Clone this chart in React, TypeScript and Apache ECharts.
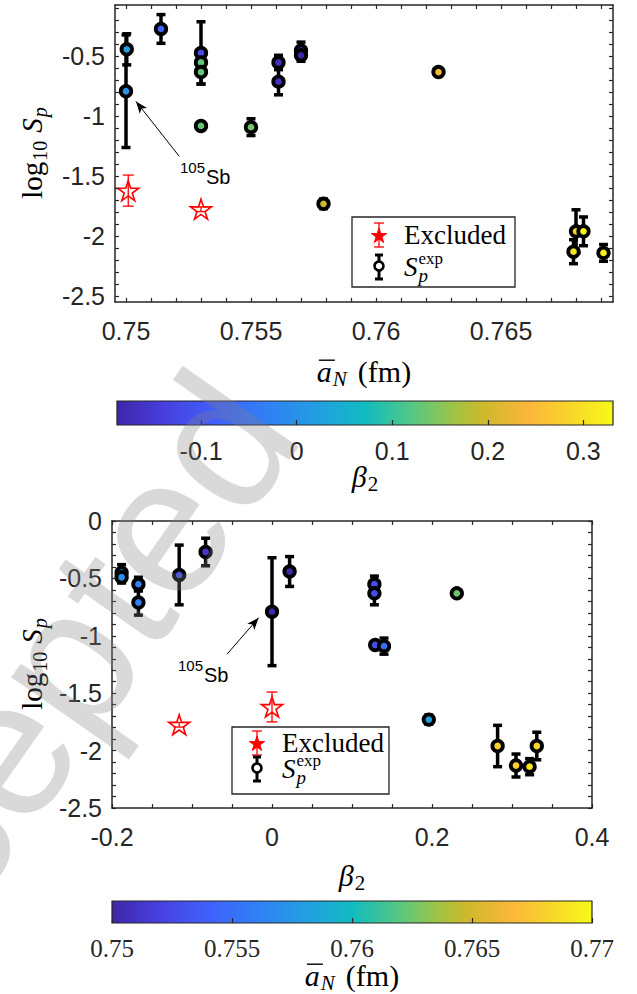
import React, { useEffect, useRef } from "react";
import * as echarts from "echarts";

// ---------------- data ----------------
// accepted nuclei: mean diffuseness aN (fm), deformation beta2, log10 Sp and its error
const aN = [0.75003, 0.7500, 0.7514, 0.7530, 0.7530, 0.7530, 0.7530, 0.7550, 0.7561, 0.7561, 0.7570, 0.7570, 0.7579, 0.7625, 0.7680, 0.7683, 0.7679, 0.7691];
const beta2 = [0.022, 0.000, -0.083, -0.116, 0.128, 0.128, 0.129, 0.140, -0.167, -0.167, -0.188, -0.188, 0.196, 0.231, 0.282, 0.331, 0.305, 0.322];
const logSp = [-0.44, -0.79, -0.27, -0.47, -0.55, -0.63, -1.08, -1.09, -0.55, -0.71, -0.45, -0.49, -1.73, -0.63, -1.96, -1.96, -2.13, -2.14];
const logSpErr = [0.13, 0.47, 0.12, 0.26, 0.07, 0.10, 0.03, 0.07, 0.06, 0.11, 0.07, 0.05, 0.04, 0.03, 0.18, 0.12, 0.10, 0.07];

// excluded nuclei
const exclAN = [0.75009, 0.7530];
const exclBeta2 = [0.0, -0.116];
const exclLogSp = [-1.62, -1.775];
const exclErr = [0.13, 0.02];

// tick labels
const topXLabels = [0.75, 0.755, 0.76, 0.765];
const topYLabels = [-2.5, -2, -1.5, -1, -0.5];
const botXLabels = [-0.2, 0, 0.2, 0.4];
const botYLabels = [-2.5, -2, -1.5, -1, -0.5, 0];
const cbBetaLabels = [-0.1, 0, 0.1, 0.2, 0.3];
const cbANLabels = [0.75, 0.755, 0.76, 0.765, 0.77];

// axis ranges
const TOP_X_RANGE = [0.74956, 0.76948];
const TOP_Y_RANGE = [-2.55, -0.07];
const BOT_X_RANGE = [-0.2, 0.4];
const BOT_Y_RANGE = [-2.5, 0];
const AN_COLOR_RANGE = [0.75, 0.77];

// annotation arrows (data space): [from, to]
const topArrow = [[0.75213, -1.334], [0.7504, -0.875]];
const botArrow = [[-0.0562, -1.16], [-0.0167, -0.843]];

// ---------------- styles ----------------
const AX = "#262626";
const RED = "#ff0000";
const SERIF = '"Liberation Serif", "Times New Roman", serif';
const SANS = '"Liberation Sans", Arial, sans-serif';

const PARULA: [number, string][] = [
  [0, "#3e26a8"], [0.1, "#4741e0"], [0.2, "#4060fb"], [0.3, "#317ff5"],
  [0.41, "#22a0e0"], [0.5, "#10bcc0"], [0.6, "#58c880"], [0.68, "#a0c444"],
  [0.74, "#cdb92c"], [0.83, "#fbb63c"], [0.91, "#f8d42a"], [1, "#f6fa16"],
];

function hexToRgb(h: string) {
  const n = parseInt(h.slice(1), 16);
  return [(n >> 16) & 255, (n >> 8) & 255, n & 255];
}
function cmap(t: number) {
  for (let i = 0; i < PARULA.length - 1; i++) {
    const [t0, c0] = PARULA[i];
    const [t1, c1] = PARULA[i + 1];
    if (t <= t1) {
      const f = (t - t0) / (t1 - t0);
      const a = hexToRgb(c0), b = hexToRgb(c1);
      const r = a.map((v, k) => Math.round(v + (b[k] - v) * f));
      return `rgb(${r[0]},${r[1]},${r[2]})`;
    }
  }
  return PARULA[PARULA.length - 1][1];
}
const PALETTE = Array.from({ length: 64 }, (_, i) => cmap(i / 63));
const GRADIENT = {
  type: "linear", x: 0, y: 0, x2: 1, y2: 0,
  colorStops: PARULA.map(([o, c]) => ({ offset: o, color: c })),
};

function steps(a: number, b: number, s: number) {
  const out: number[] = [];
  const n = Math.round((b - a) / s);
  for (let i = 0; i <= n; i++) out.push(+(a + i * s).toFixed(6));
  return out;
}

const STAR = "path://M0,-1 L0.2245,-0.309 L0.951,-0.309 L0.363,0.118 L0.588,0.809 L0,0.382 L-0.588,0.809 L-0.363,0.118 L-0.951,-0.309 L-0.2245,-0.309 Z";

function starPts(cx: number, cy: number, R: number) {
  const pts: number[][] = [];
  for (let i = 0; i < 10; i++) {
    const r = i % 2 === 0 ? R : R * 0.382;
    const a = -Math.PI / 2 + (i * Math.PI) / 5;
    pts.push([cx + r * Math.cos(a), cy + r * Math.sin(a)]);
  }
  return pts;
}

// ---------------- math-like text helper ----------------
type Run = { t: string; size: number; italic?: boolean; dy?: number; gap?: number; family?: string; stack?: boolean; over?: boolean };
let mctx: CanvasRenderingContext2D | null = null;
function fontOf(r: Run) {
  return `${r.italic ? "italic " : ""}${r.size}px ${r.family || SERIF}`;
}
function widthOf(r: Run) {
  if (!mctx) mctx = document.createElement("canvas").getContext("2d");
  if (!mctx) return r.t.length * r.size * 0.5;
  mctx.font = fontOf(r);
  return mctx.measureText(r.t).width;
}
function mathText(cx: number, cy: number, runs: Run[], align: "center" | "left" = "center", rotation = 0, color = "#000") {
  let x = 0;
  let lastStart = 0;
  const items: { r: Run; x: number; w: number }[] = [];
  for (const r of runs) {
    x += r.gap || 0;
    const start = r.stack ? lastStart : x;
    const w = widthOf(r);
    items.push({ r, x: start, w });
    if (!r.stack) lastStart = start;
    x = Math.max(x, start + w);
  }
  const off = align === "center" ? -x / 2 : 0;
  const children: any[] = [];
  for (const it of items) {
    children.push({
      type: "text",
      z: 40,
      x: off + it.x,
      y: it.r.dy || 0,
      style: {
        text: it.r.t, font: fontOf(it.r), fill: color,
        align: "left", verticalAlign: "middle", textAlign: "left", textVerticalAlign: "middle",
      },
    });
    if (it.r.over) {
      const yy = (it.r.dy || 0) - 0.36 * it.r.size;
      children.push({
        type: "line",
        z: 40,
        shape: { x1: off + it.x + 2, y1: yy, x2: off + it.x + it.w + 3, y2: yy },
        style: { stroke: color, lineWidth: 1.4 },
      });
    }
  }
  return { type: "group", x: cx, y: cy, rotation, silent: true, z: 40, children };
}

function ln(x1: number, y1: number, x2: number, y2: number, color: string, lw: number) {
  return { type: "line", shape: { x1, y1, x2, y2 }, style: { stroke: color, lineWidth: lw }, z: 21, silent: true };
}

function legend(bx: number, by: number, bw: number, bh: number, ix: number, tx: number, y1: number, y2: number) {
  const els: any[] = [];
  els.push({ type: "rect", shape: { x: bx, y: by, width: bw, height: bh }, style: { fill: "#fff", stroke: AX, lineWidth: 1.3 }, z: 20, silent: true });
  els.push(ln(ix, y1 - 12, ix, y1 + 12, RED, 1.3));
  els.push(ln(ix - 5, y1 - 12, ix + 5, y1 - 12, RED, 1.3));
  els.push(ln(ix - 5, y1 + 12, ix + 5, y1 + 12, RED, 1.3));
  els.push({ type: "polygon", shape: { points: starPts(ix, y1 + 1, 8) }, style: { fill: RED, stroke: RED, lineWidth: 1 }, z: 22, silent: true });
  els.push(ln(ix, y2 - 12, ix, y2 + 12, "#000", 3));
  els.push(ln(ix - 4, y2 - 12, ix + 4, y2 - 12, "#000", 3));
  els.push(ln(ix - 4, y2 + 12, ix + 4, y2 + 12, "#000", 3));
  els.push({ type: "circle", shape: { cx: ix, cy: y2 - 1, r: 4.5 }, style: { fill: "#fff", stroke: "#000", lineWidth: 2.6 }, z: 22, silent: true });
  els.push(mathText(tx, y1, [{ t: "Excluded", size: 27 }], "left"));
  els.push(mathText(tx, y2, [
    { t: "S", size: 27, italic: true },
    { t: "p", size: 19, italic: true, dy: 8, gap: 1 },
    { t: "exp", size: 17, dy: -9, stack: true },
  ], "left"));
  return els;
}

// ---------------- axes ----------------
function xAx(grid: number, pos: string, range: number[], ticks: number[], labels: number[], showLabels: boolean, family = SANS, margin = 16) {
  return {
    type: "value", gridIndex: grid, position: pos, min: range[0], max: range[1], z: 10,
    axisLine: { show: true, onZero: false, lineStyle: { color: AX, width: 1.5 } },
    axisTick: { show: true, inside: true, length: 4, customValues: ticks, lineStyle: { color: AX, width: 1.2 } },
    axisLabel: { show: showLabels, customValues: labels, margin, color: AX, fontSize: 25, fontFamily: family },
    splitLine: { show: false },
  };
}
function yAx(grid: number, pos: string, range: number[], ticks: number[], labels: number[], showLabels: boolean) {
  return {
    type: "value", gridIndex: grid, position: pos, min: range[0], max: range[1], z: 10,
    axisLine: { show: true, onZero: false, lineStyle: { color: AX, width: 1.5 } },
    axisTick: { show: true, inside: true, length: 4, customValues: ticks, lineStyle: { color: AX, width: 1.2 } },
    axisLabel: { show: showLabels, customValues: labels, margin: 10, color: AX, fontSize: 25, fontFamily: SANS },
    splitLine: { show: false },
  };
}
function cbAx(grid: number, range: number[], labels: number[], family: string) {
  return {
    type: "value", gridIndex: grid, position: "bottom", min: range[0], max: range[1], z: 10,
    axisLine: { show: false },
    axisTick: { show: true, inside: true, length: 5, customValues: labels, lineStyle: { color: AX, width: 1.2 } },
    axisLabel: { show: true, customValues: labels, margin: 13, color: AX, fontSize: 25, fontFamily: family },
    splitLine: { show: false },
  };
}
const hiddenY = (grid: number) => ({ type: "value", gridIndex: grid, min: 0, max: 1, show: false });

function errSeries(xi: number, yi: number, data: number[][], color: string, lw: number, cap: number, z: number) {
  return {
    type: "custom", xAxisIndex: xi, yAxisIndex: yi, z, silent: true,
    encode: { x: 0, y: [1, 2] },
    data,
    renderItem: (_p: any, api: any) => {
      const x = api.value(0);
      const a = api.coord([x, api.value(1)]);
      const b = api.coord([x, api.value(2)]);
      const st = { stroke: color, lineWidth: lw };
      return {
        type: "group",
        children: [
          { type: "line", shape: { x1: a[0], y1: a[1], x2: b[0], y2: b[1] }, style: st },
          { type: "line", shape: { x1: a[0] - cap / 2, y1: a[1], x2: a[0] + cap / 2, y2: a[1] }, style: st },
          { type: "line", shape: { x1: b[0] - cap / 2, y1: b[1], x2: b[0] + cap / 2, y2: b[1] }, style: st },
        ],
      };
    },
  };
}
function colorbarSeries(xi: number, yi: number, range: number[]) {
  return {
    type: "custom", xAxisIndex: xi, yAxisIndex: yi, z: 1, silent: true,
    data: [[range[0], range[1]]],
    renderItem: (_p: any, api: any) => {
      const a = api.coord([api.value(0), 0]);
      const b = api.coord([api.value(1), 1]);
      return {
        type: "rect",
        shape: { x: a[0], y: b[1], width: b[0] - a[0], height: a[1] - b[1] },
        style: { fill: GRADIENT, stroke: AX, lineWidth: 1.2 },
      };
    },
  };
}
function arrowLine(arrow: number[][]) {
  return {
    silent: true, symbol: ["none", "arrow"], symbolSize: [7, 12],
    lineStyle: { color: "#000", width: 1, type: "solid" },
    label: { show: false },
    emphasis: { disabled: true },
    data: [[{ coord: arrow[0] }, { coord: arrow[1] }]],
  };
}

export default function App() {
  const ref = useRef<HTMLDivElement>(null);
  useEffect(() => {
    if (!ref.current) return;
    const chart = echarts.init(ref.current, null, { renderer: "svg" });
    const b2Min = Math.min(...beta2);
    const b2Max = Math.max(...beta2);

    const topData = aN.map((x, i) => [x, logSp[i], beta2[i]]);
    const topErr = aN.map((x, i) => [x, logSp[i] - logSpErr[i], logSp[i] + logSpErr[i]]);
    const topExcl = exclAN.map((x, i) => [x, exclLogSp[i]]);
    const topExclErr = exclAN.map((x, i) => [x, exclLogSp[i] - exclErr[i], exclLogSp[i] + exclErr[i]]);
    const botData = beta2.map((x, i) => [x, logSp[i], aN[i]]);
    const botErr = beta2.map((x, i) => [x, logSp[i] - logSpErr[i], logSp[i] + logSpErr[i]]);
    const botExcl = exclBeta2.map((x, i) => [x, exclLogSp[i]]);
    const botExclErr = exclBeta2.map((x, i) => [x, exclLogSp[i] - exclErr[i], exclLogSp[i] + exclErr[i]]);

    const scatter = (xi: number, data: number[][], arrow: number[][]) => ({
      type: "scatter", xAxisIndex: xi, yAxisIndex: xi, z: 3, data,
      symbol: "circle", symbolSize: 10.5,
      itemStyle: { borderColor: "#000", borderWidth: 3.8, opacity: 1 },
      emphasis: { disabled: true },
      markLine: arrowLine(arrow),
    });
    const stars = (xi: number, data: number[][]) => ({
      type: "scatter", xAxisIndex: xi, yAxisIndex: xi, z: 4, data,
      symbol: STAR, symbolSize: 21, symbolKeepAspect: true,
      itemStyle: { color: "rgba(255,255,255,0)", borderColor: RED, borderWidth: 1.6, opacity: 1 },
      emphasis: { disabled: true },
    });

    const topXTicks = steps(0.75, 0.769, 0.001);
    const topYTicks = steps(-2.5, -0.1, 0.1);
    const botXTicks = steps(-0.2, 0.4, 0.05);
    const botYTicks = steps(-2.5, 0, 0.1);

    const graphics: any[] = [
      // axis labels
      mathText(32, 153, [
        { t: "log", size: 29 },
        { t: "10", size: 20, dy: 8, gap: 1 },
        { t: "S", size: 29, italic: true, gap: 8 },
        { t: "p", size: 20, italic: true, dy: 8, gap: 1 },
      ], "center", Math.PI / 2),
      mathText(32, 664, [
        { t: "log", size: 29 },
        { t: "10", size: 20, dy: 8, gap: 1 },
        { t: "S", size: 29, italic: true, gap: 8 },
        { t: "p", size: 20, italic: true, dy: 8, gap: 1 },
      ], "center", Math.PI / 2),
      mathText(364, 371, [
        { t: "a", size: 30, italic: true, over: true },
        { t: "N", size: 21, italic: true, dy: 8, gap: 1 },
        { t: "(fm)", size: 30, gap: 11 },
      ]),
      mathText(365, 476, [{ t: "β", size: 30, italic: true }, { t: "2", size: 21, dy: 8, gap: 1 }]),
      mathText(352, 875, [{ t: "β", size: 30, italic: true }, { t: "2", size: 21, dy: 8, gap: 1 }]),
      mathText(352, 975, [
        { t: "a", size: 30, italic: true, over: true },
        { t: "N", size: 21, italic: true, dy: 8, gap: 1 },
        { t: "(fm)", size: 30, gap: 11 },
      ]),
      // 105Sb annotations
      mathText(180, 177, [{ t: "105", size: 15, family: SANS, dy: -10 }, { t: "Sb", size: 20, family: SANS, gap: 1 }], "left"),
      mathText(178, 675, [{ t: "105", size: 15, family: SANS, dy: -10 }, { t: "Sb", size: 20, family: SANS, gap: 1 }], "left"),
      ...legend(352, 217, 163, 70, 379, 404, 235, 267),
      ...legend(232, 727, 157, 67, 257, 282, 743, 769),
      // watermark
      {
        type: "text", x: 17, y: 730, rotation: 0.96, z: 100, silent: true,
        style: {
          text: "Accepted", font: `195px ${SANS}`, fill: "rgba(128,128,128,0.3)",
          align: "center", verticalAlign: "middle", textAlign: "center", textVerticalAlign: "middle",
        },
      },
    ];

    chart.setOption({
      animation: false,
      backgroundColor: "#ffffff",
      grid: [
        { left: 115, top: 5, width: 498, height: 297 },
        { left: 117, top: 401, width: 496, height: 24 },
        { left: 112, top: 521, width: 480, height: 287 },
        { left: 112, top: 901, width: 480, height: 22 },
      ],
      xAxis: [
        xAx(0, "bottom", TOP_X_RANGE, topXTicks, topXLabels, true),
        xAx(0, "top", TOP_X_RANGE, topXTicks, topXLabels, false),
        cbAx(1, [b2Min, b2Max], cbBetaLabels, SANS),
        xAx(2, "bottom", BOT_X_RANGE, botXTicks, botXLabels, true),
        xAx(2, "top", BOT_X_RANGE, botXTicks, botXLabels, false),
        cbAx(3, AN_COLOR_RANGE, cbANLabels, SERIF),
      ],
      yAxis: [
        yAx(0, "left", TOP_Y_RANGE, topYTicks, topYLabels, true),
        yAx(0, "right", TOP_Y_RANGE, topYTicks, topYLabels, false),
        hiddenY(1),
        yAx(2, "left", BOT_Y_RANGE, botYTicks, botYLabels, true),
        yAx(2, "right", BOT_Y_RANGE, botYTicks, botYLabels, false),
        hiddenY(3),
      ],
      visualMap: [
        { type: "continuous", show: false, seriesIndex: 1, dimension: 2, min: b2Min, max: b2Max, inRange: { color: PALETTE } },
        { type: "continuous", show: false, seriesIndex: 6, dimension: 2, min: AN_COLOR_RANGE[0], max: AN_COLOR_RANGE[1], inRange: { color: PALETTE } },
      ],
      series: [
        errSeries(0, 0, topErr, "#000", 3.5, 9, 2),
        scatter(0, topData, topArrow),
        errSeries(0, 0, topExclErr, RED, 1.3, 11, 3),
        stars(0, topExcl),
        colorbarSeries(2, 2, [b2Min, b2Max]),
        errSeries(3, 3, botErr, "#000", 3.5, 9, 2),
        scatter(3, botData, botArrow),
        errSeries(3, 3, botExclErr, RED, 1.3, 11, 3),
        stars(3, botExcl),
        colorbarSeries(5, 5, AN_COLOR_RANGE),
      ],
      graphic: { elements: graphics },
    });
    return () => chart.dispose();
  }, []);
  return <div ref={ref} style={{ position: "fixed", left: 0, top: 0, width: 637, height: 994 }} />;
}
